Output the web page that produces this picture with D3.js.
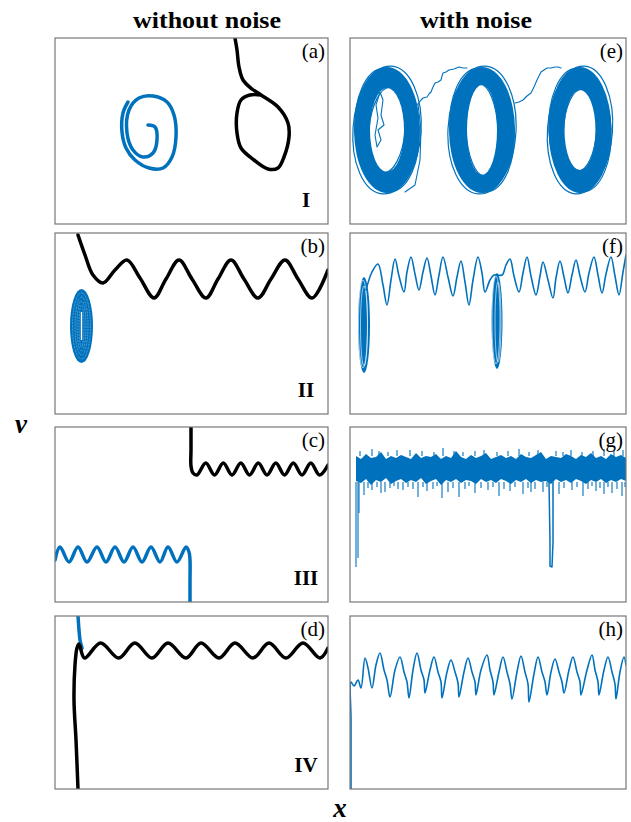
<!DOCTYPE html>
<html>
<head>
<meta charset="utf-8">
<title>Phase portraits with and without noise</title>
<script src="https://d3js.org/d3.v7.min.js"></script>
<style>
  body { margin: 0; background: #fff; }
  svg text { font-family: "Liberation Serif", "Times New Roman", serif; fill: #000; }
</style>
</head>
<body>
<script>
// all values are in panel units: x to the right, v upwards

// (a) without noise, regime I
const aBlue = [[93,99],[100,97],[102,84],[98,71],[88,67],[78,74],[72,91],[74,114],[84,126],[98,128],[112,122],[119,109],[121,87],[117,67],[108,56],[94,56],[80,64],[71,76],[67,92],[68,111],[73,122]];
const aBlack = [[180,186],[182,174],[184,157],[188,144],[197,135],[206,129],[223,117],[233,101],[234,87],[229,67],[223,56],[213,55],[199,64],[186,76],[182,91],[182,111],[186,124],[195,129],[206,129]];

// (b) regime II
const bBlack = [[23,179],[30,159],[38,139],[48,131],[60,144],[72,154],[85,136],[99,116],[111,135],[124,154],[137,135],[151,116],[163,135],[176,154],[189,135],[203,116],[216,135],[230,154],[243,135],[257,116],[273,144]];
const bFocus = [26.5, 88, 11.5, 37];                 // cx, cv, rx, rv
const bTurns = [[9,33],[6.5,29],[4.5,25],[2.5,21]];

// (c) regime III
const cBlack = [[136,175],[136,152],[136,136],[138,129],[142,127],[150.8,139],[159.5,127],[168.3,139],[177,127],[185.8,139],[194.5,127],[203.3,139],[212,127],[220.8,139],[229.5,127],[238.3,139],[247,127],[255.8,139],[264.5,127],[273,137]];
const cBlue = [[0,42],[5,55],[14,40],[23,55],[32,40],[42,55],[51,40],[60,55],[69,40],[78,55],[87,40],[96,55],[105,40],[113,55],[122,40],[131,55],[134,50],[135,42],[135,20],[135,0]];

// (d) regime IV
const dBlack = [[23,0],[21,49],[19,89],[20,124],[22,141],[24,145],[29.5,131],[45.6,146],[63.7,131],[79.8,146],[97,131],[113,146],[131,131],[146,146],[164,131],[180,146],[198,131],[214,146],[231,131],[248,146],[265,131],[273,141]];
const dBlue = [[23,173],[24,159],[25,149],[27,141]];

// (e) with noise: three noisy cycles
const eRings = [[37,94,33,63,17,42],[132,94,33,63,15,45],[230,94,31.5,63,15.5,40]]; // cx, cv, outer rx, rv, inner rx, rv
const eFuzz = [[0,34,64,4],[0,32,62,-3],[0,18,43,5],[1,34,64,3],[1,32,62,-4],[1,16,46,-3],[2,32.5,64,4],[2,31,62,-3],[2,16.5,41,3]]; // ring, rx, rv, tilt
const eConn1 = [[60,117],[64,119],[68,120],[71,124],[73,126],[77,127],[79,130],[81,132],[83,137],[85,141],[88,142],[91,144],[92,148],[93,151],[96,152],[99,154],[104,155],[109,157],[113,156],[117,156]];
const eConn2 = [[165,121],[169,122],[173,124],[177,128],[181,131],[184,137],[187,144],[189,148],[191,152],[194,154],[197,156],[201,156],[205,157],[208,157],[211,156]];
const eSpiral = [[30,132],[33,124],[31,109],[34,99],[28,94],[31,84],[27,77],[25,89],[28,106],[26,119],[30,132]];
const eSide = [[68,120],[71,94],[70,64],[65,39],[55,32]];

// (f)
const fLine = [[16,124],[22,142],[28,150],[33,129],[37,109],[41,134],[45,155],[49,138],[54,122],[57,142],[61,157],[65,140],[69,124],[73,142],[77,156],[81,138],[85,119],[89,139],[93,157],[98,137],[103,118],[107,137],[111,153],[115,132],[119,109],[123,134],[128,157],[132,141],[135,122],[140,134],[144,139],
  [152,139],[156,149],[160,155],[164,138],[169,122],[173,141],[177,157],[181,138],[186,119],[190,138],[193,152],[198,134],[203,116],[206,136],[210,153],[214,137],[218,121],[222,139],[226,154],[230,138],[235,122],[239,141],[244,157],[248,139],[252,121],[256,140],[261,157],[265,138],[269,119],[273,142],[276,159]];
const fBlobs = [[14,89,6,48],[147,93,5.5,48]];       // cx, cv, rx, rv of the dense loops
const fLoops = [[13,90,4.5,44],[14,88,3.5,40],[146,94,4,44],[148,92,3,40]];

// (g) dense noisy band: x, top, bottom
const gBand = [[6,146,121],[11,143,119],[16,148,123],[21,144,117],[26,145,122],[31,150,120],[36,143,124],[41,146,118],[46,144,121],[51,147,123],[56,145,119],[61,143,122],[66,149,120],[71,144,124],[76,146,118],[81,145,121],[86,148,123],[91,143,117],[96,146,122],[101,144,120],[106,151,123],[111,145,119],[116,143,122],[121,147,121],[126,144,118],[131,146,123],[136,149,120],[141,143,122],[146,145,119],[151,147,123],[156,144,121],[161,146,118],[166,143,122],[171,148,120],[176,145,123],[181,144,119],[186,147,122],[191,150,120],[196,143,121],[201,146,118],[206,145,123],[211,144,120],[216,148,122],[221,146,119],[226,143,123],[231,147,121],[236,145,118],[241,149,122],[246,144,120],[251,146,123],[256,143,119],[261,148,122],[266,145,120],[271,147,123],[276,144,121]];
const gSpikes = [[6,120,35],[8,120,44],[9,120,89],[14,120,107],[22,120,112],[35,120,110],[48,120,113],[68,120,105],[77,120,111],[92,120,104],[98,120,110],[109,120,105],[125,120,109],[138,120,112],[149,120,106],[160,120,111],[173,120,108],[185,120,113],[193,120,110],[209,120,108],[222,120,112],[233,120,106],[246,120,111],[254,120,108],[262,120,109],[272,120,106],
  [18,120,114],[27,120,115],[31,120,109],[40,120,114],[44,120,116],[53,120,112],[58,120,115],[63,120,113],[73,120,115],[83,120,113],[87,120,116],[103,120,114],[115,120,113],[119,120,116],[131,120,114],[143,120,115],[154,120,113],[165,120,115],[178,120,114],[181,120,110],[197,120,115],[214,120,114],[227,120,115],[238,120,113],[242,120,116],[250,120,114],[258,120,115],[267,120,113],[275,120,115],
  [10,146,151],[22,146,153],[29,146,151],[38,146,150],[47,146,152],[60,146,152],[72,146,151],[84,146,150],[93,146,154],[104,146,151],[113,146,150],[125,146,151],[134,146,152],[147,146,150],[158,146,151],[169,146,153],[179,146,150],[188,146,152],[206,146,151],[213,146,150],[221,146,152],[232,146,150],[243,146,151],[254,146,153],[264,146,151],[273,146,152]];
const gDip = [[199,120],[200,60],[200,36],[202,35],[203,60],[203,120]];

// (h)
const hLine = [[1,0],[1,69],[1,107],[4,103],[8,109],[11,101],[15,131],[18,121],[22,101],[26,124],[30,136],[34,119],[37,109],[40,92],[45,119],[50,132],[54,117],[57,107],[59,91],[63,119],[67,136],[71,119],[74,109],[75,96],[80,119],[84,132],[88,117],[91,107],[92,91],[97,117],[101,129],[105,117],[108,106],[109,92],[114,117],[118,131],[122,117],[125,107],[126,94],[131,119],[137,134],[140,119],[143,107],[144,94],[149,117],[153,132],[157,117],[160,105],[162,90],[167,117],[171,133],[175,117],[178,105],[179,87],[184,115],[188,132],[192,117],[195,107],[197,94],[201,117],[205,130],[209,117],[212,107],[214,96],[219,119],[223,132],[227,117],[230,107],[231,94],[237,119],[242,134],[245,119],[248,107],[249,94],[254,119],[258,132],[262,117],[265,105],[266,90],[270,117],[274,132],[276,124]];

const headers = ["without noise", "with noise"];
const letters = ["(a)","(b)","(c)","(d)","(e)","(f)","(g)","(h)"];
const romans = ["I","II","III","IV"];

const BLUE = "#0072bd";

const svg = d3.select("body").append("svg")
  .attr("width", 631)
  .attr("height", 822);

// panel boxes
const cols = [[55, 328], [350, 626]];
const rows = [[38, 224], [233, 414], [427, 602], [616, 789]];

function makePanel(ci, ri, id) {
  const c = cols[ci], r = rows[ri];
  const x = d3.scaleLinear().domain([0, c[1] - c[0]]).range(c);
  const y = d3.scaleLinear().domain([0, r[1] - r[0]]).range([r[1], r[0]]);
  svg.append("clipPath").attr("id", "clip" + id)
    .append("rect").attr("x", c[0]).attr("y", r[0]).attr("width", c[1] - c[0]).attr("height", r[1] - r[0]);
  const g = svg.append("g").attr("clip-path", "url(#clip" + id + ")");
  const line = d3.line().x(d => x(d[0])).y(d => y(d[1]));
  return {x, y, g, line, c, r};
}

function drawPath(p, data, color, width, curve) {
  p.g.append("path")
    .datum(data)
    .attr("d", p.line.curve(curve || d3.curveLinear))
    .attr("fill", "none")
    .attr("stroke", color)
    .attr("stroke-width", width)
    .attr("stroke-linejoin", "round")
    .attr("stroke-linecap", "round");
}

function ellipse(p, cx, cv, rx, rv) {
  return p.g.append("ellipse")
    .attr("cx", p.x(cx)).attr("cy", p.y(cv))
    .attr("rx", p.x(rx) - p.x(0)).attr("ry", p.y(0) - p.y(rv));
}

function frame(p, ci, ri) {
  svg.append("rect")
    .attr("x", p.c[0]).attr("y", p.r[0])
    .attr("width", p.c[1] - p.c[0]).attr("height", p.r[1] - p.r[0])
    .attr("fill", "none").attr("stroke", "#777").attr("stroke-width", 1.2);
  svg.append("text")
    .attr("x", p.c[1] - 3).attr("y", p.r[0] + 20)
    .attr("text-anchor", "end").attr("font-size", 21)
    .text(letters[ci * 4 + ri]);
  if (ci === 0) {
    svg.append("text")
      .attr("x", 306).attr("y", p.r[1] - 17)
      .attr("text-anchor", "middle").attr("font-size", 21).attr("font-weight", "bold")
      .text(romans[ri]);
  }
}

const cr = d3.curveCatmullRom.alpha(0.5);

// (a)
const pa = makePanel(0, 0, "a");
drawPath(pa, aBlue, BLUE, 3.5, cr);
drawPath(pa, aBlack, "#000", 3.5, cr);
frame(pa, 0, 0);

// (b)
const pb = makePanel(0, 1, "b");
drawPath(pb, bBlack, "#000", 3.5, cr);
ellipse(pb, bFocus[0], bFocus[1], bFocus[2], bFocus[3]).attr("fill", BLUE);
bTurns.forEach(t => {
  ellipse(pb, bFocus[0], bFocus[1], t[0], t[1]).attr("fill", "none").attr("stroke", "#fff").attr("stroke-width", 0.6)
    .attr("stroke-dasharray", "0.5,1");
});
pb.g.append("line")
  .attr("x1", pb.x(bFocus[0])).attr("x2", pb.x(bFocus[0]))
  .attr("y1", pb.y(bFocus[1] + 14)).attr("y2", pb.y(bFocus[1] - 14))
  .attr("stroke", "#fff").attr("stroke-width", 1.4);
frame(pb, 0, 1);

// (c)
const pc = makePanel(0, 2, "c");
drawPath(pc, cBlack, "#000", 3.5, cr);
drawPath(pc, cBlue, BLUE, 3.5, cr);
frame(pc, 0, 2);

// (d)
const pd = makePanel(0, 3, "d");
drawPath(pd, dBlue, BLUE, 3.5, cr);
drawPath(pd, dBlack, "#000", 3.5, cr);
frame(pd, 0, 3);

// (e)
const pe = makePanel(1, 0, "e");
eRings.forEach(r => {
  ellipse(pe, r[0], r[1], r[2], r[3]).attr("fill", BLUE);
  ellipse(pe, r[0], r[1], r[4], r[5]).attr("fill", "#fff");
});
eFuzz.forEach(f => {
  const r = eRings[f[0]];
  ellipse(pe, r[0], r[1], f[1], f[2])
    .attr("fill", "none").attr("stroke", BLUE).attr("stroke-width", 1.2)
    .attr("transform", "rotate(" + f[3] + "," + pe.x(r[0]) + "," + pe.y(r[1]) + ")");
});
[eConn1, eConn2, eSpiral, eSide].forEach(d => drawPath(pe, d, BLUE, 1.1));
frame(pe, 1, 0);

// (f)
const pf = makePanel(1, 1, "f");
fBlobs.forEach(b => ellipse(pf, b[0], b[1], b[2], b[3]).attr("fill", BLUE));
fLoops.forEach(l => {
  ellipse(pf, l[0], l[1], l[2], l[3]).attr("fill", "none").attr("stroke", "#fff").attr("stroke-width", 0.6);
});
drawPath(pf, fLine, BLUE, 1.6, cr);
frame(pf, 1, 1);

// (g)
const pg = makePanel(1, 2, "g");
pg.g.append("path")
  .datum(gBand)
  .attr("d", d3.area().x(d => pg.x(d[0])).y0(d => pg.y(d[2])).y1(d => pg.y(d[1])))
  .attr("fill", BLUE);
pg.g.selectAll("line.spike")
  .data(gSpikes)
  .enter().append("line")
  .attr("class", "spike")
  .attr("x1", d => pg.x(d[0])).attr("x2", d => pg.x(d[0]))
  .attr("y1", d => pg.y(d[1])).attr("y2", d => pg.y(d[2]))
  .attr("stroke", BLUE).attr("stroke-width", 1.1);
drawPath(pg, gDip, BLUE, 1.5);
frame(pg, 1, 2);

// (h)
const ph = makePanel(1, 3, "h");
drawPath(ph, hLine, BLUE, 1.6, cr);
frame(ph, 1, 3);

// column headers and axis symbols
svg.append("text").attr("x", 207).attr("y", 28).attr("text-anchor", "middle")
  .attr("font-size", 23).attr("font-weight", "bold")
  .attr("textLength", 148).attr("lengthAdjust", "spacingAndGlyphs")
  .text(headers[0]);
svg.append("text").attr("x", 476).attr("y", 28).attr("text-anchor", "middle")
  .attr("font-size", 23).attr("font-weight", "bold")
  .attr("textLength", 112).attr("lengthAdjust", "spacingAndGlyphs")
  .text(headers[1]);
svg.append("text").attr("x", 21).attr("y", 433).attr("text-anchor", "middle")
  .attr("font-size", 27).attr("font-style", "italic").attr("font-weight", "bold")
  .text("v");
svg.append("text").attr("x", 340).attr("y", 817).attr("text-anchor", "middle")
  .attr("font-size", 27).attr("font-style", "italic").attr("font-weight", "bold")
  .text("x");
</script>
</body>
</html>
